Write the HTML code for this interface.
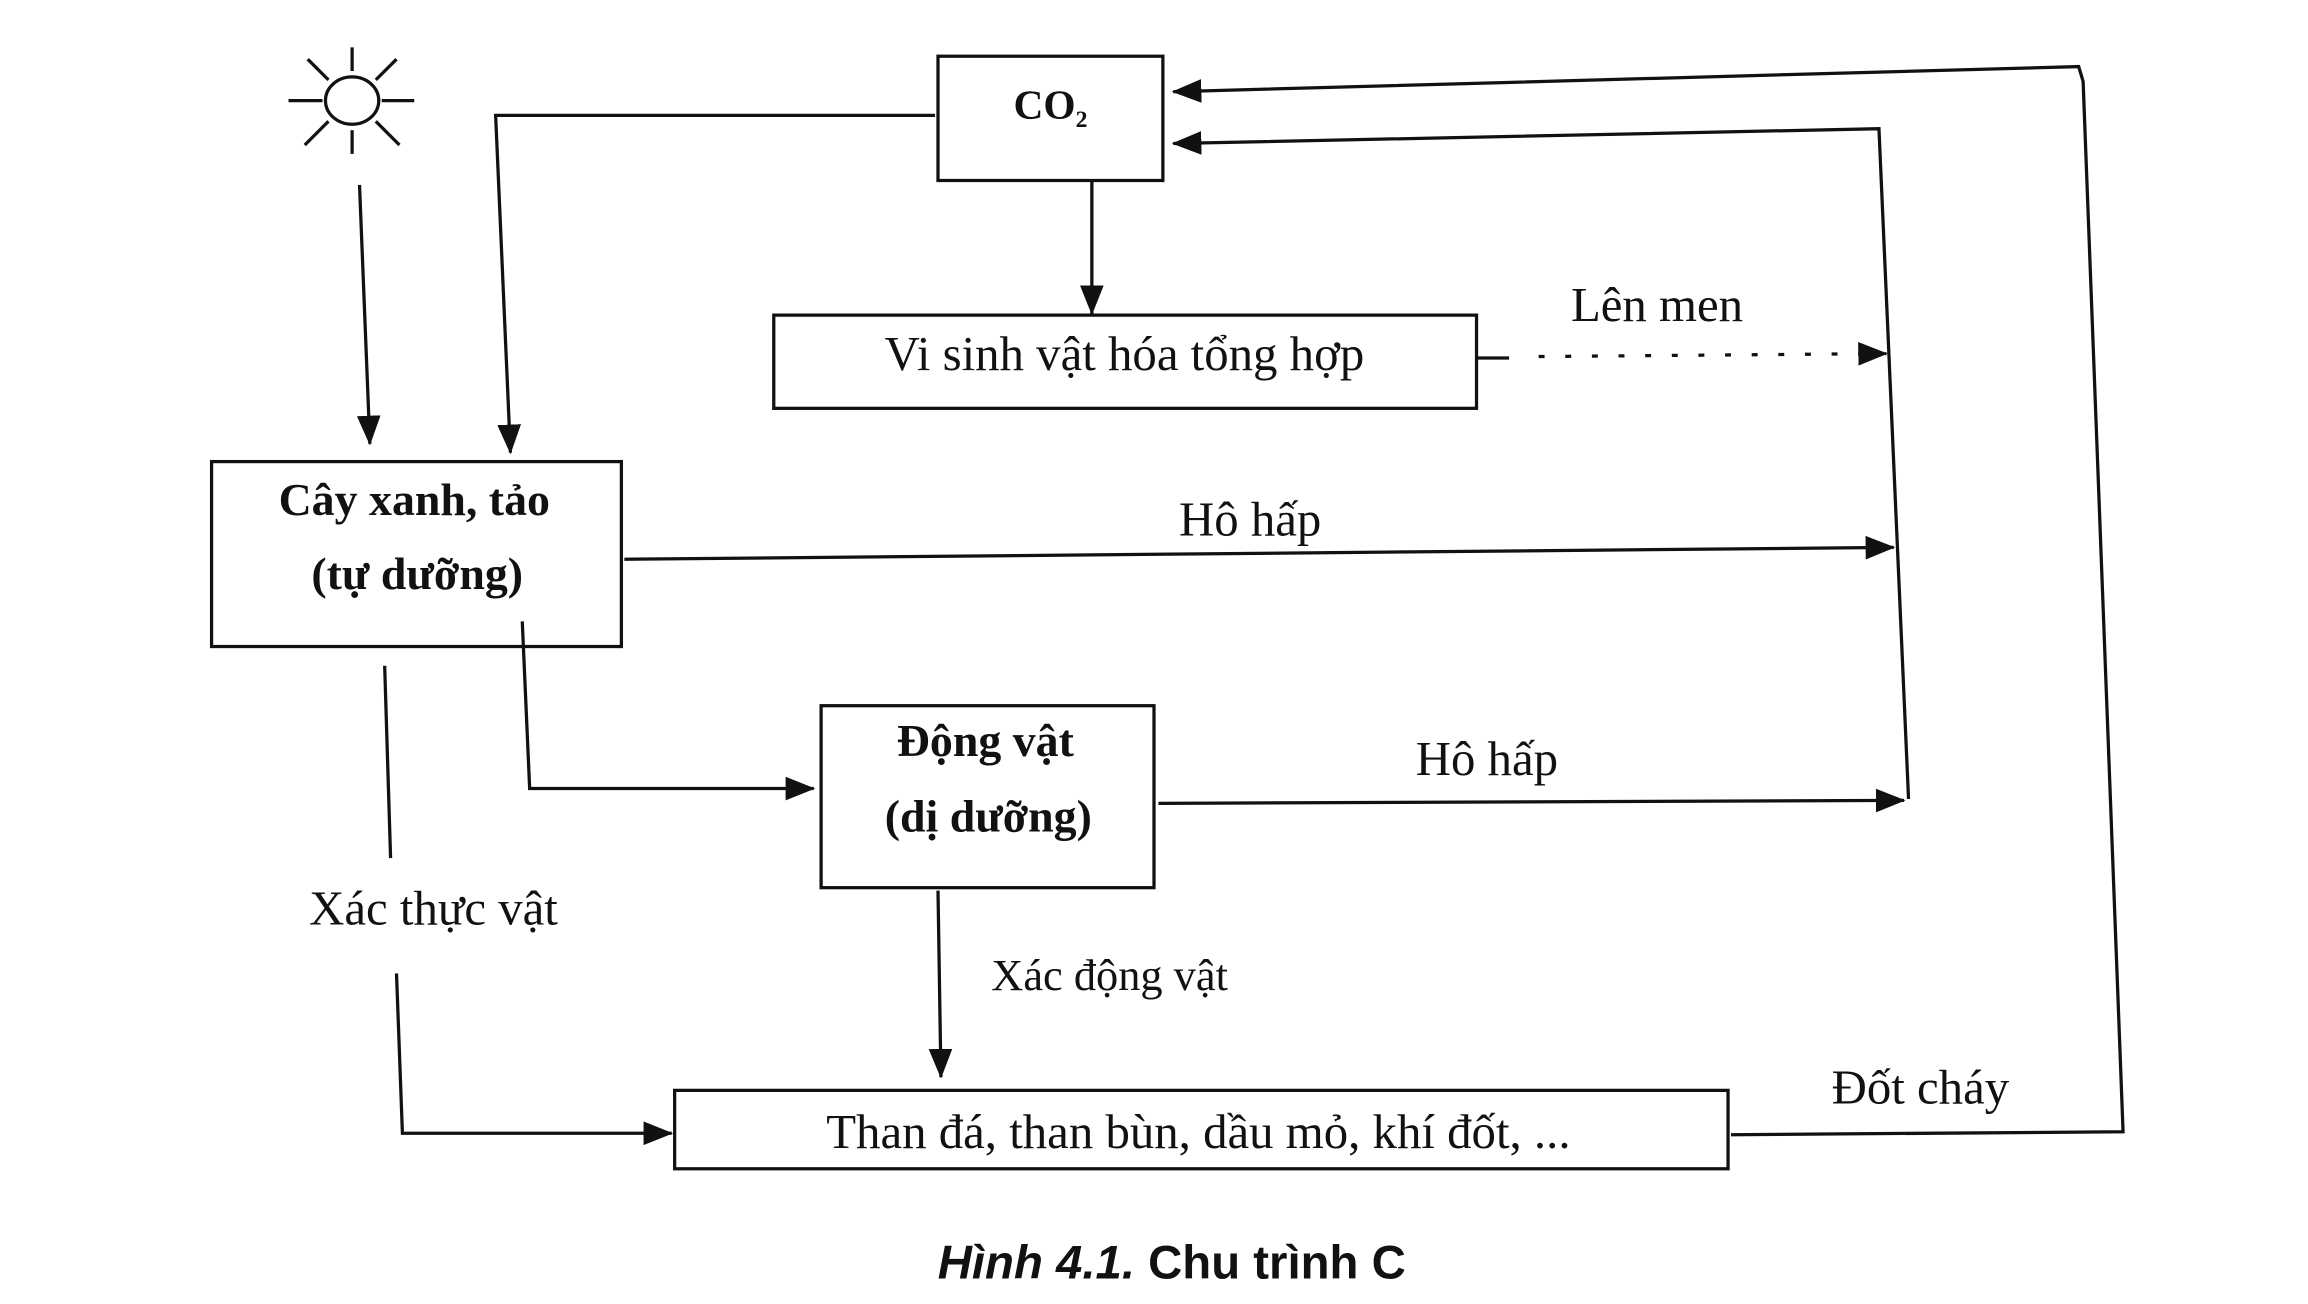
<!DOCTYPE html>
<html><head><meta charset="utf-8"><style>
html,body{margin:0;padding:0;background:#fff;width:2308px;height:1304px;overflow:hidden}
svg{display:block}
text{font-family:"Liberation Serif",serif;fill:#111}
</style></head><body>
<svg width="2308" height="1304" viewBox="0 0 1560 881.4" preserveAspectRatio="none">
<defs><marker id="ah" markerWidth="10" markerHeight="8" refX="9" refY="4" orient="auto" markerUnits="userSpaceOnUse"><path d="M0,0 L10,4 L0,8 Z" fill="#111"/></marker>
<marker id="ahb" markerWidth="20" markerHeight="16" refX="19" refY="8" orient="auto" markerUnits="userSpaceOnUse"><path d="M0,0 L20,8 L0,16 Z" fill="#111"/></marker></defs>
<g stroke="#111" stroke-width="2.2" fill="none">
<g>
<ellipse cx="238" cy="68" rx="18" ry="16"/>
<line x1="238" y1="32" x2="238" y2="48"/><line x1="238" y1="88" x2="238" y2="104"/>
<line x1="195" y1="68" x2="218" y2="68"/><line x1="258" y1="68" x2="280" y2="68"/>
<line x1="208" y1="40" x2="222" y2="54"/><line x1="254" y1="82" x2="270" y2="98"/>
<line x1="268" y1="40" x2="254" y2="54"/><line x1="222" y1="82" x2="206" y2="98"/>
</g>
<line x1="243" y1="125" x2="250" y2="300" marker-end="url(#ahb)"/>
<rect x="634" y="38" width="152" height="84"/>
<polyline points="632,78 335,78 345,306" marker-end="url(#ahb)"/>
<line x1="738" y1="122" x2="738" y2="212" marker-end="url(#ahb)"/>
<rect x="523" y="213" width="475" height="63"/>
<line x1="998" y1="242" x2="1020" y2="242"/>
<line x1="1040" y1="241" x2="1275" y2="239" stroke-dasharray="4 14" marker-end="url(#ahb)"/>
<polyline points="1290,540 1270,87 793,97" marker-end="url(#ahb)"/>
<polyline points="1170,767 1435,765 1408,55 1405,45 793,62" marker-end="url(#ahb)"/>
<rect x="143" y="312" width="277" height="125"/>
<line x1="422" y1="378" x2="1280" y2="370" marker-end="url(#ahb)"/>
<polyline points="353,420 358,533 550,533" marker-end="url(#ahb)"/>
<rect x="555" y="477" width="225" height="123"/>
<line x1="783" y1="543" x2="1287" y2="541" marker-end="url(#ahb)"/>
<line x1="260" y1="450" x2="264" y2="580"/>
<polyline points="268,658 272,766 454,766" marker-end="url(#ahb)"/>
<line x1="634" y1="602" x2="636" y2="728" marker-end="url(#ahb)"/>
<rect x="456" y="737" width="712" height="53"/>
</g>
<text x="710" y="80" font-size="28" text-anchor="middle" font-weight="bold">CO<tspan font-size="16" dy="6">2</tspan></text>
<text x="760" y="250" font-size="33" text-anchor="middle">Vi sinh vật hóa tổng hợp</text>
<text x="1120" y="217" font-size="33" text-anchor="middle">Lên men</text>
<text x="280" y="348" font-size="31" text-anchor="middle" font-weight="bold">Cây xanh, tảo</text>
<text x="282" y="398" font-size="31" text-anchor="middle" font-weight="bold">(tự dưỡng)</text>
<text x="845" y="362" font-size="33" text-anchor="middle">Hô hấp</text>
<text x="666" y="511" font-size="31" text-anchor="middle" font-weight="bold">Động vật</text>
<text x="668" y="562" font-size="31" text-anchor="middle" font-weight="bold">(dị dưỡng)</text>
<text x="1005" y="524" font-size="33" text-anchor="middle">Hô hấp</text>
<text x="293" y="625" font-size="33" text-anchor="middle">Xác thực vật</text>
<text x="750" y="669" font-size="30" text-anchor="middle">Xác động vật</text>
<text x="810" y="776" font-size="33" text-anchor="middle">Than đá, than bùn, dầu mỏ, khí đốt, ...</text>
<text x="1298" y="746" font-size="33" text-anchor="middle">Đốt cháy</text>
<text x="792" y="864" font-size="32" text-anchor="middle" style="font-family:'Liberation Sans Narrow','Liberation Sans',sans-serif" font-weight="bold"><tspan font-style="italic">Hình 4.1.</tspan> Chu trình C</text>
</svg>
</body></html>
